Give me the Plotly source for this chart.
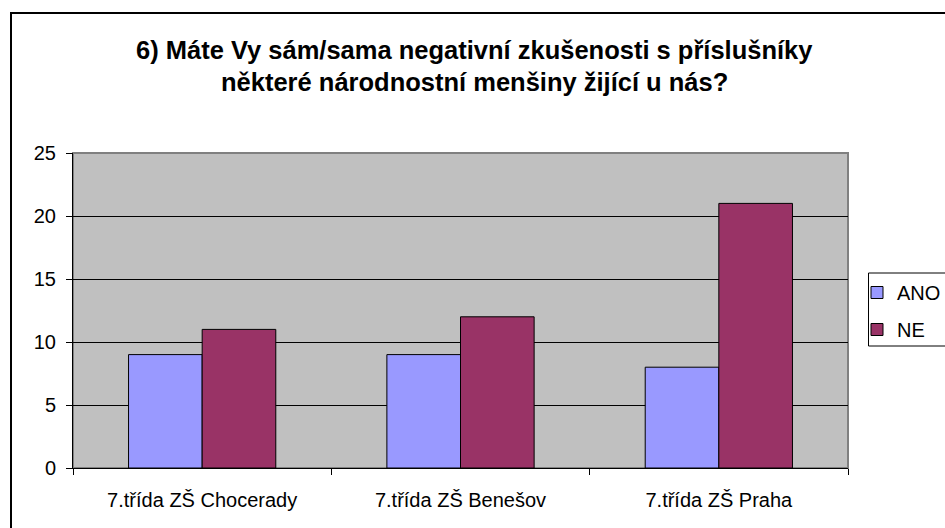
import plotly.graph_objects as go

categories = ["7.třída ZŠ Chocerady", "7.třída ZŠ Benešov", "7.třída ZŠ Praha"]
ano_values = [9, 9, 8]
ne_values = [11, 12, 21]
series_names = ["ANO", "NE"]
title_lines = ["6) Máte Vy sám/sama negativní zkušenosti s příslušníky",
               "některé národnostní menšiny žijící u nás?"]

W, H = 945, 528
L, R, T, B = 73, 97, 153, 60
pw, ph = W - L - R, H - T - B

def px_x(x):
    return (x - L) / pw

def px_y(y):
    return (H - B - y) / ph

fig = go.Figure()
fig.add_trace(go.Bar(x=categories, y=ano_values, name=series_names[0], legendgroup="a",
                     marker=dict(color="#9999FF", line=dict(color="black", width=1))))
fig.add_trace(go.Bar(x=categories, y=ne_values, name=series_names[1], legendgroup="b",
                     marker=dict(color="#993366", line=dict(color="black", width=1))))

font_family = "Liberation Sans, Arial, sans-serif"

fig.update_layout(
    width=W, height=H,
    margin=dict(l=L, r=R, t=T, b=B, autoexpand=False),
    paper_bgcolor="white",
    plot_bgcolor="#C0C0C0",
    barmode="group",
    bargap=0.43,
    bargroupgap=0,
    font=dict(family=font_family, size=20, color="black"),
    showlegend=True,
    legend=dict(xref="container", yref="container",
                x=857 / W, y=1 - 273 / H, xanchor="left", yanchor="top",
                borderwidth=0, bgcolor="rgba(0,0,0,0)",
                traceorder="grouped", tracegroupgap=8,
                font=dict(size=20), itemclick=False),
    xaxis=dict(showgrid=False, showline=True, linecolor="black", linewidth=1,
               ticks="outside", ticklen=6, tickcolor="black",
               tickson="boundaries", ticklabelstandoff=14,
               tickfont=dict(size=20)),
    yaxis=dict(range=[0, 25], dtick=5, showgrid=True, gridcolor="black", gridwidth=1,
               showline=True, linecolor="black", linewidth=1,
               ticks="outside", ticklen=6, tickcolor="black",
               ticklabelstandoff=6,
               tickfont=dict(size=20), zeroline=False),
)

# plot area border (top/right)
fig.add_shape(type="rect", xref="paper", yref="paper", x0=0, y0=0, x1=1, y1=1,
              line=dict(color="#808080", width=2), layer="below")
# outer chart border
fig.add_shape(type="rect", xref="paper", yref="paper",
              x0=px_x(11), y0=px_y(532), x1=px_x(950), y1=px_y(13),
              line=dict(color="black", width=2))
# legend box
fig.add_shape(type="rect", xref="paper", yref="paper",
              x0=px_x(868.5), y0=px_y(346), x1=px_x(960), y1=px_y(273),
              line=dict(color="black", width=1), fillcolor="white", layer="below")

for t, yy in zip(title_lines, [50, 82]):
    fig.add_annotation(text="<b>" + t + "</b>", xref="paper", yref="paper",
                       x=px_x(474), y=px_y(yy), xanchor="center", yanchor="middle",
                       showarrow=False, font=dict(size=25.5, family=font_family))

fig.write_html("out.html", config={"displayModeBar": False})

with open("out.html", "r", encoding="utf-8") as f:
    html = f.read()
html = html.replace("<head>", "<head><style>html,body{margin:0;padding:0;overflow:hidden;}</style>", 1)
with open("out.html", "w", encoding="utf-8") as f:
    f.write(html)
